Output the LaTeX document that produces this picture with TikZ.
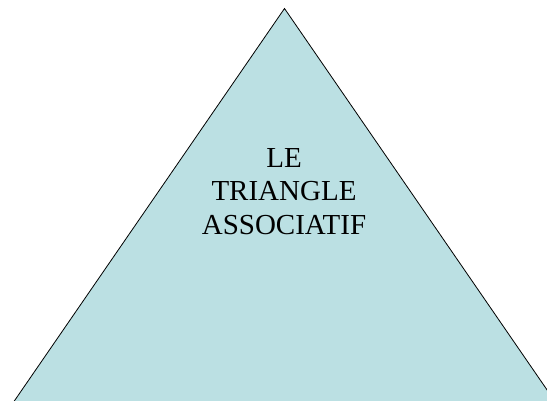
\documentclass[tikz,border=0pt]{standalone}
\usepackage{fontspec}
\setmainfont{Liberation Serif}
\usetikzlibrary{positioning}
\definecolor{triblue}{RGB}{187,224,227}

\begin{document}
\begin{tikzpicture}[x=1pt,y=1pt]
\tikzset{
  trishape/.style={fill=triblue,draw=black,line width=0.8pt,line join=miter},
  trilabel/.style={align=center,inner sep=0pt,font=\fontsize{29}{33.5}\selectfont}
}
\useasboundingbox (0,0) rectangle (547,400);
\clip (0,0) rectangle (547,400);
\coordinate (t_apex) at (284.5,391.5);
\coordinate (t_left) at (8.1,-10);
\coordinate (t_right) at (560.9,-10);
\filldraw[trishape] (t_left) -- (t_apex) -- (t_right) -- cycle;
\node[trilabel,anchor=base] (t_title) at (284,166) {LE\\TRIANGLE\\ASSOCIATIF};
\end{tikzpicture}
\end{document}
